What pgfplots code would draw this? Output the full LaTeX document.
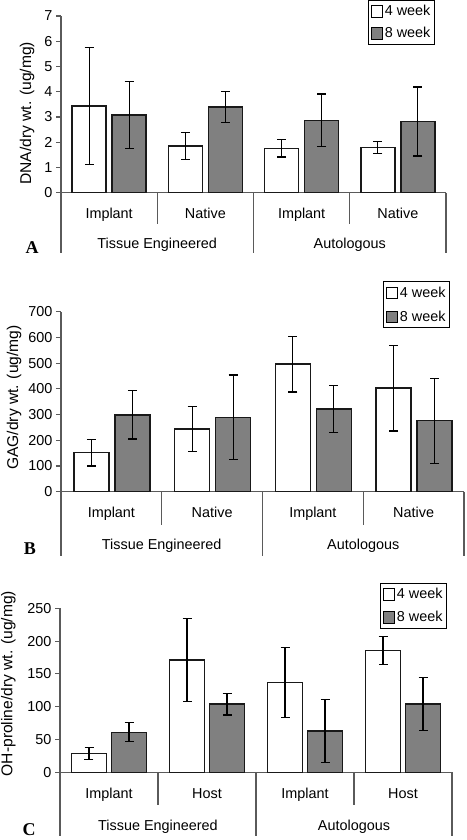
\documentclass[border=0pt]{standalone}
\usepackage{pgfplots}
\pgfplotsset{compat=1.18}
\usepackage{pgfplotstable}
\usepackage{fontspec}
\setmainfont{Liberation Sans}
\newfontfamily\letterfont{Liberation Serif}
\definecolor{barfill}{RGB}{128,128,128}
\definecolor{axisgray}{RGB}{90,90,90}
\definecolor{edge}{RGB}{25,25,25}

\pgfplotstableread{
x  w4    e4    w8    e8
0  3.43  2.32  3.08  1.33
1  1.85  0.53  3.40  0.61
2  1.76  0.35  2.87  1.04
3  1.79  0.25  2.82  1.37
}\dataA
\pgfplotstableread{
x  w4    e4    w8    e8
0  152   52    299   94
1  244   87    289   165
2  496   108   321   92
3  403   167   276   165
}\dataB
\pgfplotstableread{
x  w4    e4    w8    e8
0  28.5  9     61    14.5
1  171   63    104   16.5
2  137   53    63    48
3  185.5 21    104   40
}\dataC

\tikzset{
  sepline/.style={axisgray, line width=1.1pt},
  grp/.style={font=\fontsize{14.4}{17}\selectfont, text height=10.3pt, text depth=0pt, anchor=center},
}
\pgfplotsset{
  panel/.style={
    scale only axis, ybar, enlargelimits=false, clip=false,
    xmin=-0.5, xmax=3.5, ymin=0,
    axis lines*=left,
    axis line style={axisgray, line width=1.1pt},
    xtick={0,1,2,3}, xtick style={draw=none},
    ytick style={axisgray, line width=1.1pt},
    tick align=outside, major tick length=5pt,
    /pgf/number format/assume math mode=true,
    tick label style={font=\fontsize{14.4}{17}\selectfont},
    xticklabel style={anchor=center, text height=10.3pt, text depth=0pt, yshift=-16pt},
    legend style={draw=black, line width=0.8pt, font=\fontsize{14.4}{17}\selectfont,
      inner xsep=2pt, inner ysep=3pt, row sep=6pt, cells={anchor=west}},
    legend image code/.code={\draw[#1,draw=black,line width=0.8pt] (0pt,-5.7pt) rectangle (11.4pt,5.7pt);},
  },
  w4/.style={fill=white, draw=edge, line width=1.4pt, bar width=34pt, bar shift=-20pt},
  w8/.style={fill=barfill, draw=edge, line width=1.4pt, bar width=34pt, bar shift=20pt},
  eb/.style={error bars/.cd, y dir=both, y explicit,
     error bar style={black, line width=1.2pt},
     error mark options={black, rotate=90, line width=1.2pt, mark size=4.5pt}},
}

\begin{document}
\begin{tikzpicture}
\path[use as bounding box] (0,0) rectangle (466pt,840pt);

% ---------------- Panel A
\begin{axis}[panel,
  at={(61pt,647.3pt)}, anchor=south west,
  width=385pt, height=176.7pt,
  ymax=7, ytick={0,1,...,7},
  xticklabels={Implant,Native,Implant,Native},
  every axis y label/.style={at={(rel axis cs:0,0.45)}, xshift=-34pt, rotate=90, anchor=center, font=\fontsize{15.6}{18}\selectfont},
  ylabel={DNA/dry wt. (ug/mg)},
  legend style={at={(0.971,1.0906)}, anchor=north east},
]
\addplot[w4, eb] table[x=x, y=w4, y error=e4] {\dataA};
\addplot[w8, eb] table[x=x, y=w8, y error=e8] {\dataA};
\legend{4 week, 8 week}
\draw[sepline] (axis cs:-0.5,0) -- ++(0pt,-60pt);
\draw[sepline] (axis cs:1.5,0) -- ++(0pt,-60pt);
\draw[sepline] (axis cs:3.5,0) -- ++(0pt,-60pt);
\draw[sepline] (axis cs:0.5,0) -- ++(0pt,-31pt);
\draw[sepline] (axis cs:2.5,0) -- ++(0pt,-31pt);
\node[grp] at (axis cs:0.5,0) [yshift=-50.3pt] {Tissue Engineered};
\node[grp] at (axis cs:2.5,0) [yshift=-50.3pt] {Autologous};
\end{axis}

% ---------------- Panel B
\begin{axis}[panel,
  at={(61pt,348.3pt)}, anchor=south west,
  width=403pt, height=180pt,
  ymax=700, ytick={0,100,...,700},
  xticklabels={Implant,Native,Implant,Native},
  every axis y label/.style={at={(rel axis cs:0,0.523)}, xshift=-47pt, rotate=90, anchor=center, font=\fontsize{15.6}{18}\selectfont},
  ylabel={GAG/dry wt. (ug/mg)},
  legend style={at={(0.965,1.168)}, anchor=north east, row sep=8pt},
]
\addplot[w4, bar width=35pt, eb] table[x=x, y=w4, y error=e4] {\dataB};
\addplot[w8, bar width=35pt, bar shift=21pt, eb] table[x=x, y=w8, y error=e8] {\dataB};
\legend{4 week, 8 week}
\draw[sepline] (axis cs:-0.5,0) -- ++(0pt,-64pt);
\draw[sepline] (axis cs:1.5,0) -- ++(0pt,-64pt);
\draw[sepline] (axis cs:3.5,0) -- ++(0pt,-64pt);
\draw[sepline] (axis cs:0.5,0) -- ++(0pt,-33pt);
\draw[sepline] (axis cs:2.5,0) -- ++(0pt,-33pt);
\node[grp] at (axis cs:0.5,0) [yshift=-53pt] {Tissue Engineered};
\node[grp] at (axis cs:2.5,0) [yshift=-53pt] {Autologous};
\end{axis}

% ---------------- Panel C
\begin{axis}[panel,
  at={(60pt,67.7pt)}, anchor=south west,
  width=392pt, height=164pt,
  ymax=250, ytick={0,50,...,250},
  xticklabels={Implant,Host,Implant,Host},
  every axis y label/.style={at={(rel axis cs:0,0.541)}, xshift=-51.7pt, rotate=90, anchor=center, font=\fontsize{15.6}{18}\selectfont},
  ylabel={OH-proline/dry wt. (ug/mg)},
  legend style={at={(0.987,1.154)}, anchor=north east, row sep=7pt},
]
\addplot[w4, bar width=35pt, eb] table[x=x, y=w4, y error=e4] {\dataC};
\addplot[w8, bar width=35pt, eb] table[x=x, y=w8, y error=e8] {\dataC};
\legend{4 week, 8 week}
\draw[sepline] (axis cs:-0.5,0) -- ++(0pt,-64pt);
\draw[sepline] (axis cs:1.5,0) -- ++(0pt,-64pt);
\draw[sepline] (axis cs:3.5,0) -- ++(0pt,-64pt);
\draw[sepline] (axis cs:0.5,0) -- ++(0pt,-33pt);
\draw[sepline] (axis cs:2.5,0) -- ++(0pt,-33pt);
\node[grp] at (axis cs:0.5,0) [yshift=-53pt] {Tissue Engineered};
\node[grp] at (axis cs:2.5,0) [yshift=-53pt] {Autologous};
\end{axis}

\node[font=\letterfont\bfseries\fontsize{18}{20}\selectfont] at (32pt,592.5pt) {A};
\node[font=\letterfont\bfseries\fontsize{18}{20}\selectfont] at (30pt,291pt) {B};
\node[font=\letterfont\bfseries\fontsize{18}{20}\selectfont] at (29pt,10pt) {C};
\end{tikzpicture}
\end{document}
